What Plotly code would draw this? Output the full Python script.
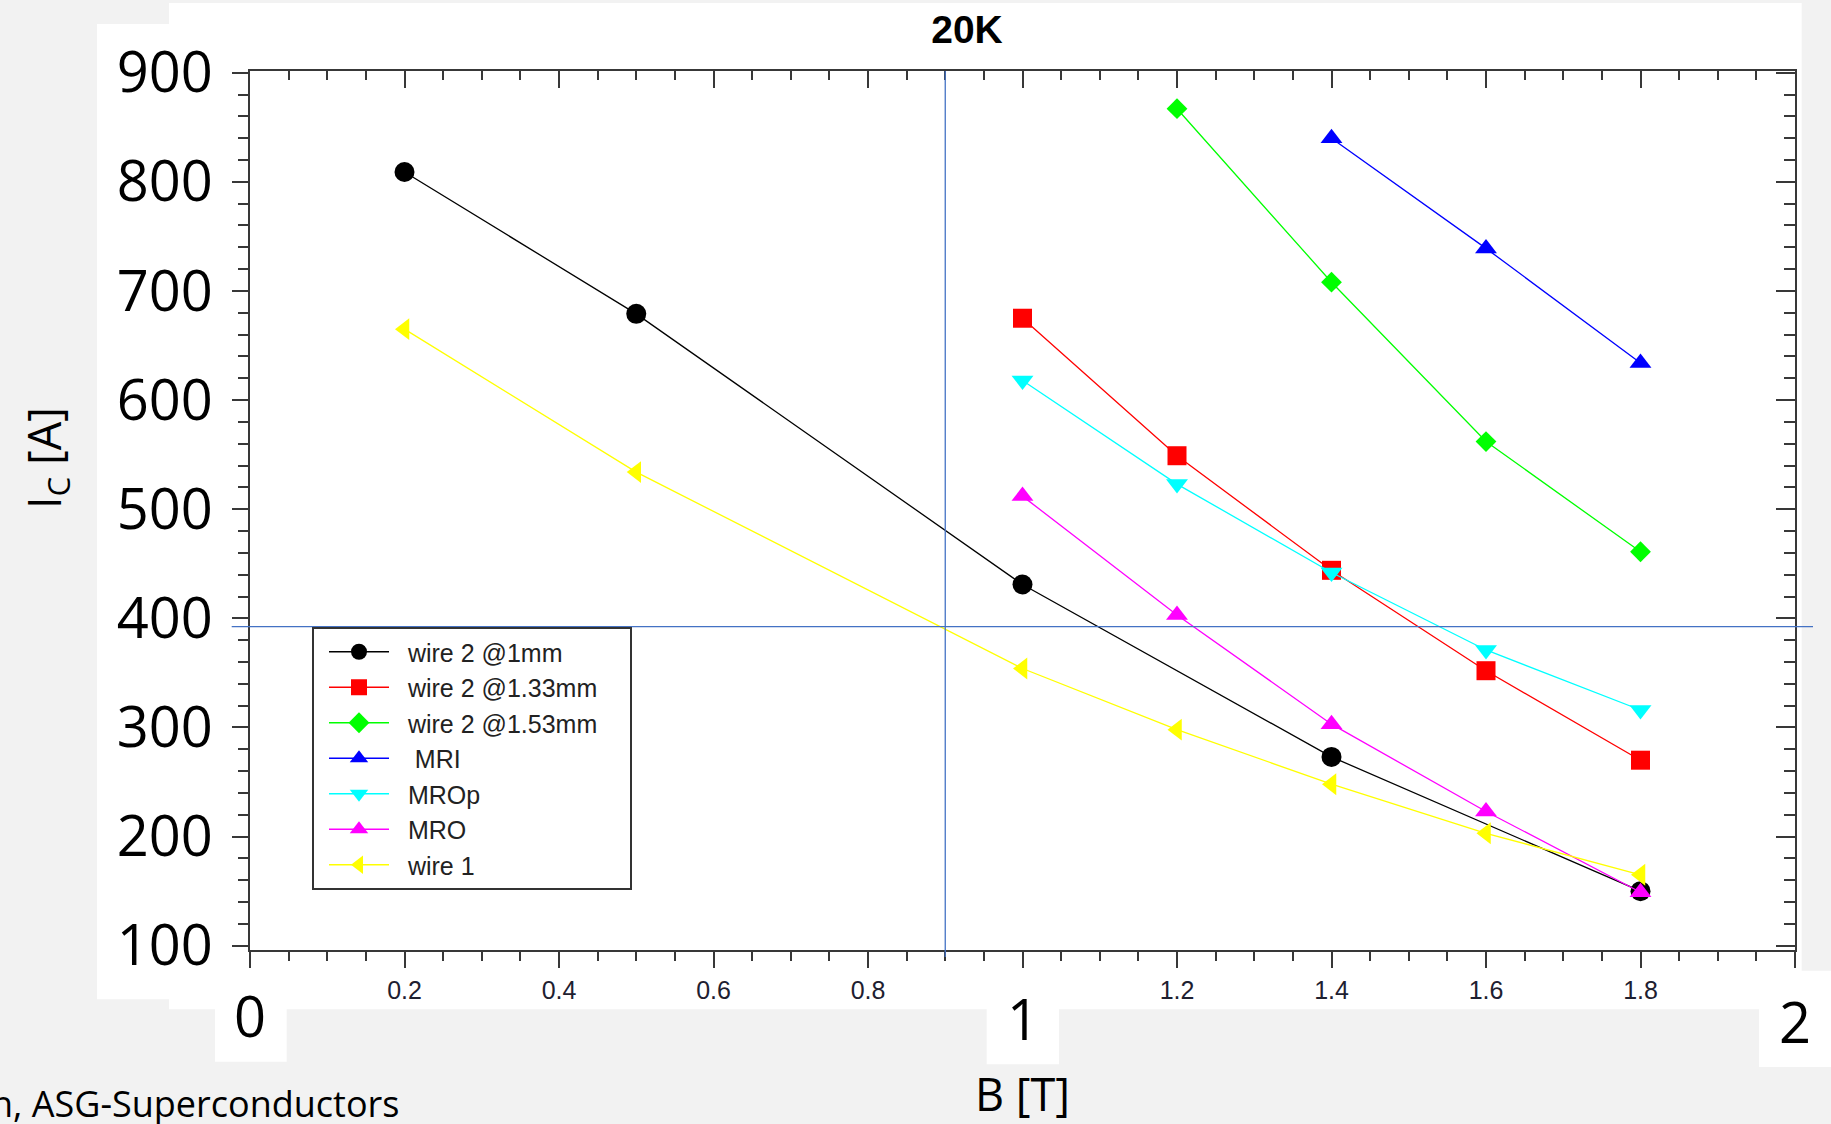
import plotly.graph_objects as go

# ---------------- data ----------------
B_wire2_1mm = [0.2, 0.5, 1.0, 1.4, 1.8]
Ic_wire2_1mm = [809, 679, 431, 273, 150]

B_wire2_133 = [1.0, 1.2, 1.4, 1.6, 1.8]
Ic_wire2_133 = [675, 549, 444, 352, 270]

B_wire2_153 = [1.2, 1.4, 1.6, 1.8]
Ic_wire2_153 = [867, 708, 562, 461]

B_mri = [1.4, 1.6, 1.8]
Ic_mri = [840, 739, 634]

B_mrop = [1.0, 1.2, 1.4, 1.6, 1.8]
Ic_mrop = [618, 523, 442, 371, 316]

B_mro = [1.0, 1.2, 1.4, 1.6, 1.8]
Ic_mro = [512, 403, 303, 223, 149]

B_wire1 = [0.2, 0.5, 1.0, 1.2, 1.4, 1.6, 1.8]
Ic_wire1 = [665, 534, 354, 298, 248, 203, 165]

series_names = ["wire 2 @1mm", "wire 2 @1.33mm", "wire 2 @1.53mm", " MRI", "MROp", "MRO", "wire 1"]

x_tick_vals = [0, 0.2, 0.4, 0.6, 0.8, 1.0, 1.2, 1.4, 1.6, 1.8, 2.0]
x_tick_text = ["", "0.2", "0.4", "0.6", "0.8", "", "1.2", "1.4", "1.6", "1.8", ""]
x_big_labels = [0, 1, 2]
y_tick_vals = [100, 200, 300, 400, 500, 600, 700, 800, 900]

cross_B = 0.9      # slide crosshair (vertical)
cross_Ic = 392.4   # slide crosshair (horizontal)

# ---------------- geometry ----------------
W, H = 1831, 1124
ML, MR, MT, MB = 250, 36, 71, 174
PW = W - ML - MR
PH = H - MT - MB


def px(xp):
    return (xp - ML) / PW


def py(yp):
    return (H - MB - yp) / PH


Y_RANGE = [96.06, 901.56]
X_RANGE = [0, 2]
AX = "#383838"
NB = "\u00a0"

fig = go.Figure()

styles = [
    ("black", "circle", 20),
    ("#ff0000", "square", 19),
    ("#00ff00", "diamond", 16),
    ("#0000ff", "triangle-up", 19),
    ("#00ffff", "triangle-down", 19),
    ("#ff00ff", "triangle-up", 19),
    ("#ffff00", "triangle-left", 19),
]
xs = [B_wire2_1mm, B_wire2_133, B_wire2_153, B_mri, B_mrop, B_mro, B_wire1]
ys = [Ic_wire2_1mm, Ic_wire2_133, Ic_wire2_153, Ic_mri, Ic_mrop, Ic_mro, Ic_wire1]

for name, xv, yv, (col, sym, sz) in zip(series_names, xs, ys, styles):
    label = NB * 2 + name.replace(" ", NB) if name.startswith(" ") else NB * 2 + name
    fig.add_trace(go.Scatter(
        x=xv, y=yv, name=label + NB * 4, mode="lines+markers",
        line=dict(color=col, width=1.3),
        marker=dict(color=col, symbol=sym, size=sz, line=dict(width=0)),
    ))

# empty trace to create mirrored top/right axes with inside ticks
fig.add_trace(go.Scatter(x=[None], y=[None], xaxis="x2", yaxis="y2",
                         showlegend=False, hoverinfo="skip"))

fig.update_layout(
    width=W, height=H, autosize=False,
    margin=dict(l=ML, r=MR, t=MT, b=MB, pad=0),
    paper_bgcolor="#f2f2f2", plot_bgcolor="white",
    title=dict(text="<b>20K</b>", x=967 / W, xref="container", xanchor="center",
               y=1 - 29 / H, yref="container", yanchor="middle",
               font=dict(family="Liberation Sans, Arial", size=39, color="black")),
    xaxis=dict(range=X_RANGE, tickmode="array", tickvals=x_tick_vals, ticktext=x_tick_text,
               ticks="outside", ticklen=16, tickwidth=2, tickcolor=AX,
               showline=True, linewidth=2, linecolor=AX, showgrid=False, zeroline=False,
               tickfont=dict(family="Liberation Sans, Arial", size=25, color="#1e2030"),
               ticklabelstandoff=1,
               minor=dict(tick0=0, dtick=0.05, ticks="outside", ticklen=9, tickwidth=2,
                          tickcolor=AX, showgrid=False)),
    yaxis=dict(range=Y_RANGE, tickmode="array", tickvals=y_tick_vals,
               ticks="outside", ticklen=16, tickwidth=2, tickcolor=AX,
               showline=True, linewidth=2, linecolor=AX, showgrid=False, zeroline=False,
               tickfont=dict(family="Open Sans", size=56, color="black"),
               ticklabelstandoff=8,
               minor=dict(tick0=0, dtick=20, ticks="outside", ticklen=10, tickwidth=2,
                          tickcolor=AX, showgrid=False)),
    xaxis2=dict(range=X_RANGE, overlaying="x", side="top", anchor="y",
                tickmode="linear", tick0=0, dtick=0.2, ticks="inside", ticklen=17,
                tickwidth=2, tickcolor=AX, showticklabels=False,
                showline=True, linewidth=2, linecolor=AX, showgrid=False, zeroline=False,
                minor=dict(tick0=0, dtick=0.05, ticks="inside", ticklen=9, tickwidth=2,
                           tickcolor=AX, showgrid=False)),
    yaxis2=dict(range=Y_RANGE, overlaying="y", side="right", anchor="x",
                tickmode="linear", tick0=0, dtick=100, ticks="inside", ticklen=19,
                tickwidth=2, tickcolor=AX, showticklabels=False,
                showline=True, linewidth=2, linecolor=AX, showgrid=False, zeroline=False,
                minor=dict(tick0=0, dtick=20, ticks="inside", ticklen=11, tickwidth=2,
                           tickcolor=AX, showgrid=False)),
    legend=dict(x=px(312), y=py(627), xanchor="left", yanchor="top",
                bgcolor="white", bordercolor="#333", borderwidth=2,
                font=dict(family="Liberation Sans, Arial", size=25, color="#222"),
                itemwidth=60, itemsizing="trace", tracegroupgap=0, indentation=10),
)

# white patches of the slide
patches = [
    (169, 3, 1801.7, 1009.3),
    (97, 24, 169.5, 999.3),
    (215, 1000, 286.7, 1061.7),
    (986.7, 1000, 1059, 1064.3),
    (1759, 970.7, 1831, 1067),
]
for x0, y0, x1, y1 in patches:
    fig.add_shape(type="rect", xref="paper", yref="paper",
                  x0=px(x0), x1=px(x1), y0=py(y1), y1=py(y0),
                  fillcolor="white", line=dict(width=0), layer="below")

# crosshair lines of the slide
fig.add_shape(type="line", xref="x", yref="paper", x0=cross_B, x1=cross_B,
              y0=py(957), y1=py(71), line=dict(color="#4472C4", width=1.3), layer="above")
fig.add_shape(type="line", xref="paper", yref="y", x0=px(231.7), x1=px(1813),
              y0=cross_Ic, y1=cross_Ic, line=dict(color="#4472C4", width=1.3), layer="above")

big = dict(family="Open Sans", size=56, color="black")
for v, yc in zip(x_big_labels, [1015, 1018, 1021]):
    fig.add_annotation(x=v, xref="x", y=py(yc), yref="paper", text=str(v),
                       showarrow=False, xanchor="center", yanchor="middle", font=big)

fig.add_annotation(x=1.0, xref="x", y=py(1093), yref="paper", text="B [T]",
                   showarrow=False, xanchor="center", yanchor="middle",
                   font=dict(family="Open Sans", size=45, color="black"))
fig.add_annotation(x=px(46), xref="paper", y=py(458), yref="paper", text="I<sub>C</sub> [A]",
                   textangle=-90, showarrow=False, xanchor="center", yanchor="middle",
                   font=dict(family="Open Sans", size=45, color="black"))
fig.add_annotation(x=px(401), xref="paper", y=py(1103), yref="paper",
                   text="n, ASG-Superconductors", showarrow=False,
                   xanchor="right", yanchor="middle",
                   font=dict(family="Open Sans", size=36, color="black"))

fig.write_html("out.html")
